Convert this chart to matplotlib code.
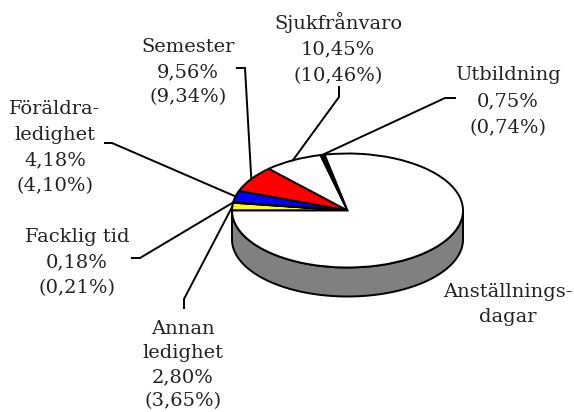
import numpy as np
import matplotlib
matplotlib.use('Agg')
import matplotlib.pyplot as plt

#
# Data, starting at the left of the pie and going clockwise
names = ['Annan\nledighet', 'Facklig tid', 'Föräldra-\nledighet', 'Semester',
         'Sjukfrånvaro', 'Utbildning', 'Anställnings-\ndagar']
values = [2.80, 0.18, 4.18, 9.56, 10.45, 0.75, 100]
previous = [3.65, 0.21, 4.10, 9.34, 10.46, 0.74, None]
colors = ['#ffff00', '#ffff00', '#0000ff', '#ff0000', '#ffffff', '#000000', '#ffffff']

#
# Layout in pixels of the picture
W, H = 574, 412
cx, cy = 347.5, 210.5
rx, ry = 115.5, 57
depth = 29
label_pos = [(183, 329), (77, 237), (55, 109), (188, 47), (338, 23), (508, 75), (508, 292)]
line_step = [24, 25.5, 25.7, 25, 26.5, 26.5, 25]
leader_pos = [[(184, 308), (184, 299)], [(132, 258), (140, 258)], [(105, 143), (112, 143)],
              [(237, 68), (245, 68)], [(339, 87), (339, 97)], [(455, 98), (445, 98)], None]


def to_xy(px, py):
    return (px - cx) / rx, (cy - py) / ry


fig = plt.figure(figsize=(W / 100, H / 100), dpi=100)
ax = fig.add_axes([0, 0, 1, 1])

wedges, _ = ax.pie(values, colors=colors, startangle=180, counterclock=False, radius=1,
                   wedgeprops=dict(edgecolor='black', linewidth=1.4))
ax.set_aspect('auto')
ax.set_xlim(to_xy(0, 0)[0], to_xy(W, 0)[0])
ax.set_ylim(to_xy(0, H)[1], to_xy(0, 0)[1])

#
# Side wall of the pie
t = np.linspace(np.pi, 2 * np.pi, 200)
wall_x = np.cos(t)
wall_top = np.sin(t)
wall_bot = wall_top - depth / ry
ax.fill(np.r_[wall_x, wall_x[::-1]], np.r_[wall_top, wall_bot[::-1]],
        facecolor='#808080', edgecolor='black', linewidth=1.4, zorder=0.5)

#
# Labels and leader lines
for i, w in enumerate(wedges):
    lines = names[i]
    if previous[i] is not None:
        lines += '\n%.2f%%\n(%.2f%%)' % (values[i], previous[i])
    lines = lines.replace('.', ',')
    for j, line in enumerate(lines.split('\n')):
        x, y = to_xy(label_pos[i][0], label_pos[i][1] + j * line_step[i])
        ax.text(x, y, line, family='DejaVu Serif', fontsize=14, color='#222222',
                ha='center', va='center')
    if leader_pos[i] is not None:
        mid = np.radians((w.theta1 + w.theta2) / 2)
        pts = [to_xy(*p) for p in leader_pos[i]] + [(np.cos(mid), np.sin(mid))]
        ax.plot([p[0] for p in pts], [p[1] for p in pts], color='black', linewidth=1.4,
                solid_joinstyle='miter', zorder=3)

fig.savefig('out.png', dpi=100)
